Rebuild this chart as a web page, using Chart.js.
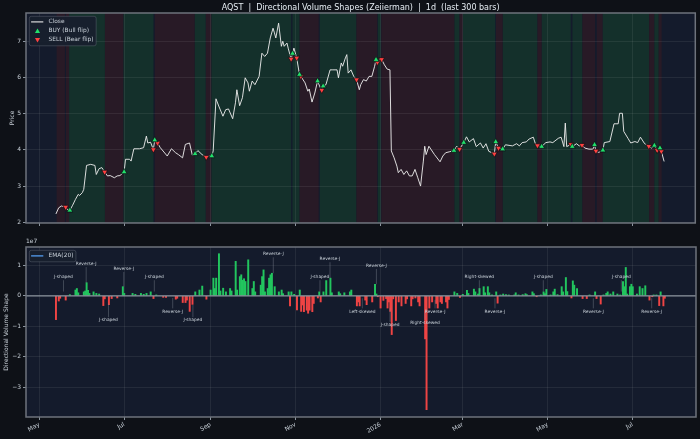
<!DOCTYPE html>
<html>
<head>
<meta charset="utf-8">
<script src="https://cdn.jsdelivr.net/npm/chart.js@4.4.1/dist/chart.umd.min.js"></script>
<style>
  html, body { margin: 0; padding: 0; background: #0e1117; }
  #wrap { position: relative; width: 700px; height: 439px; }
  #priceBox { position: absolute; left: 0; top: 0; width: 700px; height: 230px; }
  #volBox { position: absolute; left: 0; top: 230px; width: 700px; height: 209px; }
</style>
</head>
<body>
<div id="wrap">
  <div id="priceBox"><canvas id="priceChart"></canvas></div>
  <div id="volBox"><canvas id="volChart"></canvas></div>
</div>
<script>
// all x values are days since 2025-05-01
const tickDays = [0, 61, 123, 184, 245, 304, 365, 426];
const tickLabels = ['May', 'Jul', 'Sep', 'Nov', '2026', 'Mar', 'May', 'Jul'];
const priceTicks = [2, 3, 4, 5, 6, 7];
const shapeTicks = [-3, -2, -1, 0, 1];

const priceDays = [12,14,16,19,20,22,24,26,28,29,
  31,32,34,37,40,41,43,45,47,49,
  51,54,56,58,61,62,65,66,68,72,
  75,77,78,80,82,83,85,87,92,95,
  98,100,103,105,108,110,112,114,117,120,
  122,124,125,127,129,132,134,136,139,141,
  142,144,146,148,150,151,153,155,158,160,
  162,164,166,168,169,170,172,174,175,176,
  178,179,181,182,183,185,187,188,191,193,
  194,196,198,200,202,203,204,206,209,211,
  214,215,217,218,220,221,222,224,226,228,
  230,231,233,235,237,239,241,242,243,245,
  246,248,250,252,253,255,257,258,260,262,
  264,266,268,270,272,274,276,277,278,280,
  284,288,290,292,295,298,300,302,305,307,
  309,312,314,317,319,321,323,327,328,330,
  333,335,340,343,345,347,350,352,355,357,
  358,361,364,367,369,373,375,377,378,379,
  382,383,386,388,390,392,395,398,399,400,
  402,405,406,410,413,416,417,419,420,423,
  425,428,430,432,435,438,440,442,444,446,
  447,449];
const priceClose = [2.23,2.40,2.45,2.42,2.36,2.33,2.47,2.63,2.77,2.74,
  2.82,2.91,3.57,3.60,3.57,3.32,3.48,3.51,3.39,3.28,
  3.29,3.23,3.28,3.29,3.39,3.74,3.74,3.69,4.03,4.03,
  4.06,4.38,4.19,4.21,4.01,4.27,4.19,4.06,3.83,4.03,
  3.92,3.87,3.78,4.15,4.19,3.85,3.89,3.98,3.87,3.80,
  3.83,3.83,3.97,5.41,5.21,4.93,5.11,5.13,4.86,5.30,
  5.66,5.22,5.44,5.99,5.85,5.62,5.90,5.80,6.03,6.67,
  6.58,6.67,7.09,7.36,7.23,7.09,7.50,6.86,7.00,6.86,
  6.95,6.79,6.51,6.66,6.81,6.54,6.08,6.03,5.85,5.62,
  5.68,5.32,5.57,5.90,5.71,5.65,5.76,5.80,6.21,6.21,
  6.21,5.99,6.40,6.31,6.54,6.63,6.12,6.21,6.03,5.94,
  5.66,5.80,5.94,5.90,6.03,6.03,6.31,6.49,6.42,6.51,
  6.50,6.35,6.23,6.21,3.97,3.78,3.55,3.37,3.46,3.32,
  3.42,3.28,3.28,3.46,3.23,3.00,3.69,4.10,3.87,4.10,
  3.87,3.67,3.83,3.92,3.95,3.98,4.10,4.02,4.20,4.36,
  4.22,4.31,4.09,4.19,4.05,4.17,3.96,3.89,4.22,4.05,
  4.02,4.14,4.11,4.17,4.11,4.20,4.22,4.30,4.35,4.11,
  4.12,4.09,4.20,4.22,4.20,4.32,4.35,4.09,4.74,4.09,
  4.15,4.09,4.17,4.11,4.13,4.05,4.02,4.02,4.14,3.97,
  3.93,3.99,4.20,4.23,4.72,4.72,5.01,5.01,4.51,4.32,
  4.19,4.23,4.20,4.35,4.17,4.10,4.05,4.12,3.99,4.05,
  3.96,3.68];

const buyDays = [22,61,83,112,124,182,187,200,204,242,298,305,328,333,361,383,399,405,442,446];
const sellDays = [19,47,82,85,120,181,185,188,203,228,243,246,302,327,330,358,382,390,400,438,444,447];

// regime shading behind the price
const regimeKind = ['bear','bear','bull','bear','bull','bear','bull','bear','bull','bull',
  'bear','bull','bear','bull','bear','bull','bear','bull','bear','bull',
  'bear','bull','bull','bear','bear','bull','bear','bull','bear'];
const regimeStart = [12.5,19.2,21.5,47.2,60.6,83.0,111.8,119.7,123.8,182.0,
  187.1,201.6,227.9,243.3,245.8,298.4,302.0,304.4,328.2,333.1,
  358.0,361.1,383.1,390.3,400.6,404.9,438.2,442.0,445.1];
const regimeEnd = [18.5,21.5,47.2,60.6,82.1,111.8,119.7,123.8,181.0,187.1,
  200.8,227.9,242.9,245.4,298.4,302.0,304.4,327.6,333.1,358.0,
  361.1,381.9,390.3,399.4,404.9,438.2,442.0,445.1,447.2];

// directional volume shape, in units of 1e7
const shapeDays = [12,14,15,19,22,26,27,28,32,33,
  34,35,36,39,41,43,46,47,50,52,
  56,60,61,67,69,73,75,77,80,82,
  84,89,91,98,99,103,105,106,108,110,
  112,115,117,120,123,125,126,127,129,130,
  132,134,137,138,141,142,144,145,146,147,
  148,150,153,154,155,159,160,161,162,164,
  165,166,167,169,172,174,175,179,180,181,
  183,185,187,188,189,190,192,193,194,196,
  197,200,201,202,204,206,209,210,215,216,
  219,223,224,228,229,230,234,235,239,241,
  242,243,245,247,249,250,251,252,253,254,
  256,258,260,263,264,267,268,270,272,273,
  277,278,280,282,285,286,288,289,292,293,
  294,298,300,302,304,307,308,312,313,315,
  316,319,320,322,323,325,328,329,331,333,
  335,337,341,342,344,347,349,350,354,355,
  357,360,362,363,364,367,369,370,372,375,
  376,378,379,382,383,384,386,390,393,395,
  399,400,403,405,407,408,410,412,415,417,
  419,420,421,422,424,425,426,429,431,433,
  435,438,440,441,443,445,446,448,449];
const shapeValues = [-0.78,-0.17,-0.08,-0.14,0.04,0.19,0.24,0.10,0.13,0.16,
  0.43,0.18,0.08,0.13,0.08,0.06,-0.32,-0.10,-0.29,-0.09,
  -0.07,0.30,0.08,0.08,0.05,0.08,0.05,0.08,0.13,-0.09,
  0.03,-0.05,-0.05,-0.11,-0.08,-0.22,-0.22,-0.14,-0.51,-0.28,
  0.13,0.19,0.32,-0.11,0.19,0.58,0.24,0.58,1.38,0.16,
  0.25,0.13,0.24,0.16,1.13,0.19,0.63,0.69,0.51,0.56,
  0.47,1.18,0.24,0.47,0.13,0.35,0.63,0.85,0.13,0.24,
  0.58,0.69,0.74,0.30,0.13,0.19,0.07,0.13,-0.33,0.13,
  0.05,-0.46,0.19,-0.51,-0.30,-0.52,-0.47,-0.57,-0.47,-0.52,
  -0.25,-0.07,0.13,-0.20,0.13,0.50,0.58,0.10,0.13,0.07,
  0.10,0.13,0.19,-0.33,-0.20,-0.33,-0.14,-0.29,-0.20,0.38,
  0.06,-0.03,-0.40,-0.15,-0.09,-0.40,-0.20,-0.51,-1.27,-0.10,
  -0.81,-0.20,-0.33,-0.25,-0.10,-0.33,-0.10,-0.07,-0.20,-0.33,
  -1.41,-3.73,-0.40,-0.20,-0.25,-0.40,-0.20,-0.25,-0.20,-0.40,
  -0.12,0.13,0.08,-0.05,0.05,0.18,0.08,0.22,0.13,0.06,
  0.24,0.30,0.10,0.30,0.10,0.03,0.13,-0.24,0.03,0.06,
  0.04,0.03,0.03,0.10,0.03,0.04,0.07,0.04,0.13,0.07,
  -0.03,0.03,0.13,0.07,0.21,0.03,0.13,0.22,0.04,0.30,
  0.13,0.60,0.14,-0.07,0.49,0.35,0.24,-0.09,-0.09,0.03,
  0.13,-0.09,-0.27,0.03,0.08,0.13,0.06,0.13,0.06,0.03,
  0.47,0.30,0.93,0.06,0.30,0.38,0.30,0.06,0.30,0.24,
  0.33,-0.14,-0.03,0.03,0.03,-0.32,0.13,-0.33,-0.08];

// shape labels: text position and the point the leader line reaches
const annotLabels = ['J-shaped','Reverse-J','Reverse-J','J-shaped','J-shaped','Reverse-J','J-shaped',
  'Reverse-J','Reverse-J','J-shaped','Reverse-J','Left-skewed','J-shaped','Right-skewed','Reverse-J',
  'Right-skewed','Reverse-J','J-shaped','Reverse-J','J-shaped','Reverse-J'];
const annotDays = [17.4,33.7,60.7,82.6,49.7,95.8,110.3,168,208.7,201.5,242,231.9,251.8,276.9,284.1,
  315.9,327.1,361.8,397.7,417.8,439.6];
const annotTextY = [0.61,1.04,0.88,0.61,-0.80,-0.51,-0.80,1.36,1.20,0.61,0.98,-0.51,-0.95,-0.89,-0.51,
  0.61,-0.51,0.61,-0.51,0.61,-0.51];
const annotTipY = [0.14,0.43,0.30,0.14,-0.25,-0.07,-0.30,0.74,0.58,0.14,0.38,-0.08,-0.39,-0.51,-0.13,
  0.14,-0.08,0.14,-0.08,0.14,-0.08];

const textColor = '#c9d1d9';
const gridColor = 'rgba(255,255,255,0.07)';
const tickMarkColor = '#8b949e';
const plotBg = '#141b2c';
const bullShade = '#14302b';
const bearShade = '#281a26';
const upColor = '#22c55e';
const downColor = '#ef4444';
const FONT = "'DejaVu Sans', sans-serif";

Chart.defaults.font.family = FONT;
Chart.defaults.color = textColor;

const closeAt = (d) => priceClose[priceDays.indexOf(d)];

function triangle(ctx, x, y, r, down) {
  let rad = down ? Math.PI : 0;
  ctx.beginPath();
  for (let i = 0; i < 3; i++) {
    const px = x + Math.sin(rad) * r, py = y - Math.cos(rad) * r;
    i === 0 ? ctx.moveTo(px, py) : ctx.lineTo(px, py);
    rad += 2 * Math.PI / 3;
  }
  ctx.closePath();
}

function dayAxis(showLabels, height) {
  return {
    type: 'linear',
    min: -9.5,
    max: 471.4,
    offset: false,
    afterBuildTicks: (scale) => { scale.ticks = tickDays.map(v => ({ value: v })); },
    afterFit: (scale) => { scale.height = height; },
    grid: { color: gridColor, tickColor: tickMarkColor, tickLength: 3, offset: false },
    border: { display: false },
    ticks: {
      display: showLabels, autoSkip: false, minRotation: 30, maxRotation: 30, padding: 1,
      font: { size: 6 }, color: textColor,
      callback: (v, i) => tickLabels[i]
    }
  };
}

function valueAxis(min, max, ticks, title, titlePad, fmt) {
  return {
    min, max,
    afterBuildTicks: (scale) => { scale.ticks = ticks.map(v => ({ value: v })); },
    afterFit: (scale) => { scale.width = 26; },
    grid: { color: gridColor, tickColor: tickMarkColor, tickLength: 3 },
    border: { display: false },
    ticks: { padding: 2, font: { size: 6 }, color: textColor, callback: fmt },
    title: { display: true, text: title, color: textColor, font: { size: 6 }, padding: { top: titlePad, bottom: 0 } }
  };
}

// plot face and the frame round it
const panelPlugin = {
  id: 'panel',
  beforeDraw(chart) {
    const { ctx, chartArea: a } = chart;
    ctx.save();
    ctx.fillStyle = plotBg;
    ctx.fillRect(a.left, a.top, a.width, a.height);
    ctx.restore();
  },
  afterDraw(chart) {
    const { ctx, chartArea: a } = chart;
    ctx.save();
    ctx.strokeStyle = '#6e737c';
    ctx.lineWidth = 1.5;
    ctx.strokeRect(a.left, a.top, a.width, a.height);
    ctx.restore();
  }
};

const regimePlugin = {
  id: 'regimes',
  beforeDraw(chart) {
    const { ctx, chartArea: a, scales: { x } } = chart;
    ctx.save();
    ctx.beginPath();
    ctx.rect(a.left, a.top, a.width, a.height);
    ctx.clip();
    for (let i = 0; i < regimeKind.length; i++) {
      const x0 = x.getPixelForValue(regimeStart[i]);
      const x1 = x.getPixelForValue(regimeEnd[i]);
      ctx.fillStyle = regimeKind[i] === 'bull' ? bullShade : bearShade;
      ctx.fillRect(x0, a.top, x1 - x0, a.height);
    }
    ctx.restore();
  }
};

// matplotlib style legend box in the upper left corner
const boxLegendPlugin = {
  id: 'boxLegend',
  afterDatasetsDraw(chart) {
    const { ctx, chartArea: a } = chart;
    const items = chart.data.datasets.map(ds => ({
      label: ds.label,
      kind: ds.showLine === false ? (ds.rotation ? 'down' : 'up') : 'line',
      color: ds.showLine === false ? ds.backgroundColor : ds.borderColor
    }));
    ctx.save();
    ctx.font = '5.9px ' + FONT;
    const textW = Math.max(...items.map(it => ctx.measureText(it.label).width));
    const bx = a.left + 3.3, by = a.top + 3.3;
    const bw = 19.2 + textW + 2.5, bh = items.length * 9 + 2.5;
    ctx.beginPath();
    ctx.roundRect(bx, by, bw, bh, 2);
    ctx.fillStyle = 'rgba(24,31,46,0.92)';
    ctx.fill();
    ctx.strokeStyle = 'rgba(110,118,129,0.5)';
    ctx.lineWidth = 0.8;
    ctx.stroke();
    items.forEach((it, i) => {
      const cy = by + 5.6 + i * 9;
      if (it.kind === 'line') {
        ctx.strokeStyle = it.color;
        ctx.lineWidth = 1.2;
        ctx.beginPath();
        ctx.moveTo(bx + 1.8, cy);
        ctx.lineTo(bx + 14, cy);
        ctx.stroke();
      } else {
        triangle(ctx, bx + 8.2, cy + (it.kind === 'down' ? -0.5 : 0.5), 3, it.kind === 'down');
        ctx.fillStyle = it.color;
        ctx.fill();
      }
      ctx.fillStyle = textColor;
      ctx.textBaseline = 'middle';
      ctx.textAlign = 'left';
      ctx.fillText(it.label, bx + 19.2, cy);
    });
    ctx.restore();
  }
};

// zero line, 1e7 offset text and the shape labels
const shapePlugin = {
  id: 'shapes',
  afterDatasetsDraw(chart) {
    const { ctx, chartArea: a, scales: { x, y } } = chart;
    ctx.save();
    const y0 = y.getPixelForValue(0);
    ctx.strokeStyle = '#8b949e';
    ctx.lineWidth = 1.3;
    ctx.beginPath();
    ctx.moveTo(a.left, y0);
    ctx.lineTo(a.right, y0);
    ctx.stroke();

    ctx.font = '4.4px ' + FONT;
    ctx.textAlign = 'center';
    ctx.textBaseline = 'middle';
    for (let i = 0; i < annotLabels.length; i++) {
      const px = x.getPixelForValue(annotDays[i]);
      const ty = y.getPixelForValue(annotTextY[i]);
      const tip = y.getPixelForValue(annotTipY[i]);
      const edge = ty + (tip > ty ? 3 : -3);
      ctx.strokeStyle = 'rgba(139,148,158,0.55)';
      ctx.lineWidth = 0.7;
      ctx.beginPath();
      ctx.moveTo(px, edge);
      ctx.lineTo(px, tip);
      ctx.stroke();
      ctx.fillStyle = textColor;
      ctx.fillText(annotLabels[i], px, ty);
    }
    ctx.restore();
  },
  afterDraw(chart) {
    const { ctx, chartArea: a } = chart;
    ctx.save();
    ctx.font = '6px ' + FONT;
    ctx.fillStyle = textColor;
    ctx.textAlign = 'left';
    ctx.textBaseline = 'bottom';
    ctx.fillText('1e7', a.left, a.top - 2.5);
    ctx.restore();
  }
};

//==============================================================================

const ctxP = document.getElementById('priceChart').getContext('2d');
const ctxV = document.getElementById('volChart').getContext('2d');

const priceConfig = {
  type: 'line',
  data: {
    datasets: [
      {
        label: 'Close',
        data: priceDays.map((d, i) => ({ x: d, y: priceClose[i] })),
        borderColor: 'rgba(235,235,235,0.92)',
        borderWidth: 1,
        pointRadius: 0,
        tension: 0,
        order: 2
      },
      {
        type: 'scatter',
        label: 'BUY (Bull flip)',
        data: buyDays.map(d => ({ x: d, y: closeAt(d) })),
        showLine: false,
        pointStyle: 'triangle',
        pointRadius: 3.4,
        backgroundColor: '#22e06b',
        borderColor: '#0b0f14',
        borderWidth: 0.7,
        order: 1
      },
      {
        type: 'scatter',
        label: 'SELL (Bear flip)',
        data: sellDays.map(d => ({ x: d, y: closeAt(d) })),
        showLine: false,
        pointStyle: 'triangle',
        rotation: 180,
        pointRadius: 3.4,
        backgroundColor: '#ff4040',
        borderColor: '#0b0f14',
        borderWidth: 0.7,
        order: 1
      }
    ]
  },
  options: {
    responsive: true,
    maintainAspectRatio: false,
    animation: false,
    layout: { padding: { top: 0, right: 4, bottom: 0, left: 0 } },
    plugins: {
      legend: { display: false },
      tooltip: { enabled: false },
      title: {
        display: true,
        fullSize: false,
        text: 'AQST  |  Directional Volume Shapes (Zeiierman)  |  1d  (last 300 bars)',
        color: '#e6edf3',
        font: { size: 8, weight: 'normal' },
        padding: { top: 3.4, bottom: 0 }
      }
    },
    scales: {
      x: dayAxis(false, 7),
      y: valueAxis(1.98, 7.78, priceTicks, 'Price', 8.7, (v) => String(v))
    }
  },
  plugins: [panelPlugin, regimePlugin, boxLegendPlugin]
};

const shapeConfig = {
  type: 'bar',
  data: {
    datasets: [
      {
        type: 'line',
        label: 'EMA(20)',
        data: [],
        borderColor: '#58a6ff',
        borderWidth: 1.2,
        pointRadius: 0
      },
      {
        label: 'Directional Volume Shape',
        data: shapeDays.map((d, i) => ({ x: d, y: shapeValues[i] })),
        backgroundColor: (c) => (c.raw && c.raw.y < 0 ? downColor : upColor),
        barThickness: 1.3,
        borderWidth: 0
      }
    ]
  },
  options: {
    responsive: true,
    maintainAspectRatio: false,
    animation: false,
    layout: { padding: { top: 17, right: 4, bottom: 0, left: 0 } },
    plugins: {
      legend: { display: false },
      tooltip: { enabled: false }
    },
    scales: {
      x: dayAxis(true, 22),
      y: valueAxis(-3.97, 1.6, shapeTicks, 'Directional Volume Shape', 3.1,
        (v) => (v < 0 ? '\u2212' + Math.abs(v) : String(v)))
    }
  },
  plugins: [panelPlugin, shapePlugin, {
    id: 'emaLegend',
    afterDatasetsDraw(chart) {
      // only the EMA entry goes in this legend
      const bars = chart.data.datasets.slice(1);
      chart.data.datasets = chart.data.datasets.slice(0, 1);
      boxLegendPlugin.afterDatasetsDraw(chart);
      chart.data.datasets = chart.data.datasets.concat(bars);
    }
  }]
};

const priceChart = new Chart(ctxP, priceConfig);
const shapeChart = new Chart(ctxV, shapeConfig);
</script>
</body>
</html>
